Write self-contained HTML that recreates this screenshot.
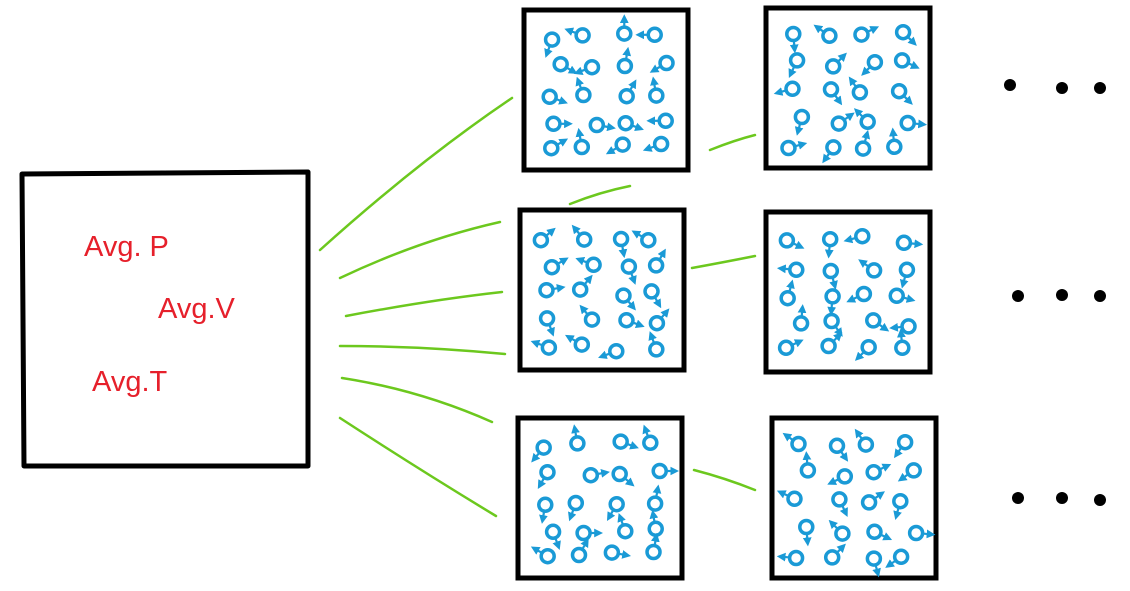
<!DOCTYPE html>
<html><head><meta charset="utf-8"><style>
html,body{margin:0;padding:0;background:#fff;}
svg{display:block;}
text{font-family:"Liberation Sans",sans-serif;fill:#e6202b;}
</style></head><body>
<svg id="s" width="1130" height="591" viewBox="0 0 1130 591">
<defs>
<marker id="ah" markerWidth="4" markerHeight="4" refX="2" refY="2" orient="auto" markerUnits="strokeWidth">
<path d="M0,0 L4,2 L0,4 z" fill="#1a9ad6"/></marker>
</defs>
<g>
<path d="M22,174 L308,172 L308,466 L24,466 Z" fill="none" stroke="#000" stroke-width="5" stroke-linejoin="round"/>
<text x="84" y="256" font-size="29">Avg. P</text>
<text x="158" y="318" font-size="29">Avg.V</text>
<text x="92" y="391" font-size="29">Avg.T</text>
</g>
<g id="lines" stroke="#6cc81e" stroke-width="2.5" fill="none" stroke-linecap="round">
<path d="M320,250 Q420,160 512,98"/>
<path d="M340,278 Q420,240 500,222"/>
<path d="M346,316 Q430,300 502,292"/>
<path d="M340,346 Q420,346 505,354"/>
<path d="M342,378 Q420,390 492,422"/>
<path d="M340,418 Q420,470 496,516"/>
<path d="M710,150 Q735,140 755,135"/>
<path d="M570,204 Q600,192 630,186"/>
<path d="M692,268 Q725,262 755,256"/>
<path d="M694,470 Q725,478 755,490"/>
</g>
<g id="boxes"></g>
<g fill="#000">
<circle cx="1010" cy="85" r="6"/><circle cx="1062" cy="88" r="6"/><circle cx="1100" cy="88" r="6"/>
<circle cx="1018" cy="296" r="6"/><circle cx="1062" cy="295" r="6"/><circle cx="1100" cy="296" r="6"/>
<circle cx="1018" cy="498" r="6"/><circle cx="1062" cy="498" r="6"/><circle cx="1100" cy="500" r="6"/>
</g>
</svg>
<script>
const boxX=[524,766,520,766,518,772];
const boxY=[10,8,210,212,418,418];
const colX=[0.17,0.4,0.62,0.83];
const rowY=[0.17,0.35,0.52,0.7,0.86];
const jit=[4,-5,2,-3,6,-2,-6,3,1,-4,5,-1,-3,4,-5,2,3,-6,0,5];
const angs=[[110,200,-90,180,30,160,-80,150,20,-110,-60,-100,0,10,20,180,-30,-100,150,160],
[-120,60,190,-50,20,90,-70,110,0,140,30,-150,20,80,-60,200,-20,-40,100,-100]];
const g=document.getElementById('boxes');
const NS='http://www.w3.org/2000/svg';
for(let b=0;b<boxX.length;b++){
  const bx=boxX[b],by=boxY[b],w=164,h=160;
  const grp=document.createElementNS(NS,'g');
  
  
  const r=document.createElementNS(NS,'rect');
  r.setAttribute('x',bx);r.setAttribute('y',by);r.setAttribute('width',w);r.setAttribute('height',h);
  r.setAttribute('fill','none');r.setAttribute('stroke','#000');r.setAttribute('stroke-width','5');
  grp.appendChild(r);
  const A=angs[b%2];
  for(let i=0;i<20;i++){
    const row=Math.floor(i/4),col=i%4;
    const cx=bx+colX[col]*w+jit[(i+b*7)%20]*0.8+(row%2?4:-3);
    const cy=by+rowY[row]*h+jit[(i*3+b*5)%20]*0.6;
    const a=(A[(i+b)%20]+b*25)*Math.PI/180;
    const p=document.createElementNS(NS,'g');
    
    
    const c=document.createElementNS(NS,'circle');
    c.setAttribute('cx',cx);c.setAttribute('cy',cy);c.setAttribute('r',6.5);
    c.setAttribute('fill','none');c.setAttribute('stroke','#1a9ad6');c.setAttribute('stroke-width','3.5');
    const l=document.createElementNS(NS,'line');
    l.setAttribute('x1',cx+6.5*Math.cos(a));l.setAttribute('y1',cy+6.5*Math.sin(a));
    l.setAttribute('x2',cx+15*Math.cos(a));l.setAttribute('y2',cy+15*Math.sin(a));
    l.setAttribute('stroke','#1a9ad6');l.setAttribute('stroke-width','2.2');
    l.setAttribute('marker-end','url(#ah)');
    p.appendChild(c);p.appendChild(l);grp.appendChild(p);
  }
  g.appendChild(grp);
}
</script>
</body></html>
